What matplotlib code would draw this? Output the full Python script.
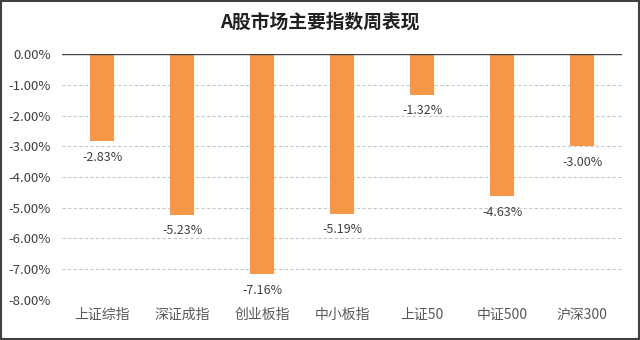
import matplotlib
matplotlib.use("Agg")
import matplotlib.pyplot as plt
from matplotlib.patches import Rectangle

plt.rcParams['font.family'] = ['Noto Sans CJK SC', 'DejaVu Sans']

categories = ['上证综指', '深证成指', '创业板指', '中小板指', '上证50', '中证500', '沪深300']
weekly_change = [-2.83, -5.23, -7.16, -5.19, -1.32, -4.63, -3.00]
y_ticks = [0, -1, -2, -3, -4, -5, -6, -7, -8]

fig = plt.figure(figsize=(6.4, 3.4), dpi=100)
ax = fig.add_axes([0.097, 0.118, 0.875, 0.723])

x = range(len(categories))
ax.bar(x, weekly_change, width=0.31, color='#F79646', zorder=3)

for xi, v in zip(x, weekly_change):
    ax.annotate(f'{v:.2f}%', (xi, v), xytext=(0, -7), textcoords='offset points',
                ha='center', va='top', fontsize=9, color='#404040')

ax.set_ylim(-8, 0)
ax.set_xlim(-0.5, len(categories) - 0.5)
ax.set_yticks(y_ticks)
ax.set_yticklabels([f'{t:.2f}%' for t in y_ticks], fontsize=9.5, color='#404040')
ax.set_xticks(list(x))
ax.set_xticklabels(categories, fontsize=10, color='#595959')
ax.tick_params(length=0, pad=8)
ax.tick_params(axis='x', pad=6)

for t in y_ticks[1:]:
    ax.axhline(t, color='#C8C8C8', lw=0.8, ls=(0, (3, 2)), zorder=1)
ax.axhline(0, color='#404040', lw=1.0, zorder=4)
for s in ax.spines.values():
    s.set_visible(False)

fig.text(0.5, 0.935, 'A股市场主要指数周表现', ha='center', va='center',
         fontsize=13.5, fontweight='bold', color='#202020')

fig.add_artist(Rectangle((0.002, 0.003), 0.996, 0.994, transform=fig.transFigure,
                         fill=False, edgecolor='#404040', lw=1.5))

fig.savefig('out.png', dpi=100)
